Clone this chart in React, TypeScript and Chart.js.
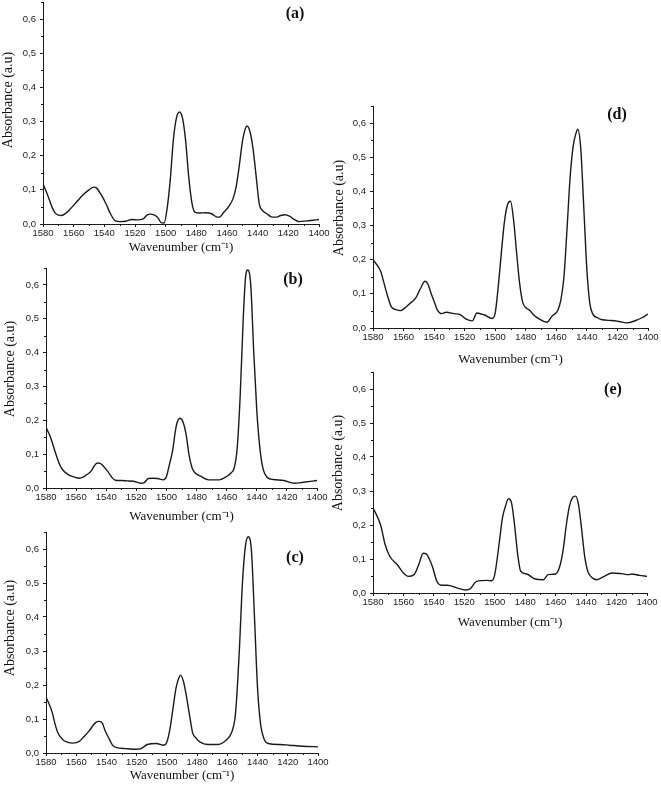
import React, { useEffect, useRef } from "react";
import { Chart, registerables } from "chart.js";

Chart.register(...registerables);

// ---- axis ticks / titles ----
const X_TICKS = [1580, 1560, 1540, 1520, 1500, 1480, 1460, 1440, 1420, 1400];
const X_MINOR = [1570, 1550, 1530, 1510, 1490, 1470, 1450, 1430, 1410];
const Y_TICKS = [0, 0.1, 0.2, 0.3, 0.4, 0.5, 0.6];
const Y_MINOR = [0.05, 0.15, 0.25, 0.35, 0.45, 0.55, 0.65];
const X_TITLE = "Wavenumber (cm⁻¹)";
const Y_TITLE = "Absorbance (a.u)";

// ---- spectra ----
const WN_A = [1580, 1577, 1574, 1572, 1570, 1568, 1565, 1562, 1558, 1554, 1550, 1547, 1545, 1542, 1539, 1536, 1533, 1530, 1526, 1522, 1518, 1515, 1512, 1510, 1507, 1505, 1503, 1501, 1499, 1497, 1495, 1493, 1491, 1489, 1487, 1485, 1483, 1481, 1478, 1474, 1470, 1467, 1465, 1462, 1459, 1456, 1454, 1452, 1450, 1448, 1447, 1445, 1443, 1441, 1439, 1437, 1434, 1431, 1428, 1425, 1422, 1419, 1416, 1413, 1408, 1404, 1400];
const ABS_A = [0.118, 0.085, 0.048, 0.032, 0.026, 0.025, 0.032, 0.045, 0.065, 0.085, 0.1, 0.108, 0.105, 0.085, 0.06, 0.03, 0.01, 0.007, 0.008, 0.013, 0.012, 0.014, 0.027, 0.029, 0.025, 0.018, 0.004, 0.003, 0.047, 0.13, 0.246, 0.31, 0.328, 0.31, 0.245, 0.14, 0.065, 0.035, 0.032, 0.033, 0.03, 0.021, 0.02, 0.035, 0.05, 0.075, 0.11, 0.17, 0.24, 0.28, 0.287, 0.27, 0.22, 0.14, 0.06, 0.04, 0.03, 0.021, 0.02, 0.025, 0.027, 0.022, 0.013, 0.007, 0.009, 0.011, 0.013];

const WN_B = [1580, 1577, 1574, 1571, 1569, 1565, 1561, 1558, 1555, 1553, 1550, 1548, 1546, 1544, 1542, 1539, 1536, 1534, 1530, 1526, 1522, 1517, 1515, 1512, 1509, 1506, 1502, 1500, 1498, 1496, 1494, 1493, 1491, 1489, 1487, 1485, 1483, 1481, 1477, 1472, 1465, 1460, 1457, 1455, 1453, 1451, 1449, 1447.5, 1446, 1444, 1442, 1440, 1438, 1436, 1433, 1429, 1422, 1415, 1409, 1400];
const ABS_B = [0.179, 0.15, 0.108, 0.07, 0.054, 0.039, 0.032, 0.029, 0.033, 0.039, 0.05, 0.065, 0.074, 0.073, 0.065, 0.049, 0.03, 0.023, 0.022, 0.021, 0.02, 0.014, 0.015, 0.028, 0.029, 0.028, 0.024, 0.034, 0.07, 0.108, 0.17, 0.192, 0.206, 0.195, 0.16, 0.098, 0.06, 0.045, 0.034, 0.024, 0.024, 0.034, 0.045, 0.059, 0.118, 0.275, 0.5, 0.62, 0.644, 0.6, 0.4, 0.23, 0.12, 0.06, 0.031, 0.025, 0.022, 0.014, 0.017, 0.022];

const WN_C = [1580, 1576, 1574, 1572, 1569, 1566, 1562, 1558, 1555, 1552, 1549, 1547, 1545, 1543, 1541, 1538, 1536, 1533, 1527, 1520, 1517, 1513, 1507, 1502, 1500, 1498, 1496, 1494, 1492, 1491, 1489, 1487, 1485, 1483, 1481, 1478, 1473, 1467, 1461, 1457, 1455, 1454, 1452, 1450, 1448, 1446, 1444, 1442, 1440, 1438, 1436, 1433, 1425, 1419, 1410, 1400];
const ABS_C = [0.165, 0.121, 0.085, 0.058, 0.04, 0.032, 0.029, 0.034, 0.048, 0.062, 0.08, 0.09, 0.093, 0.09, 0.067, 0.04, 0.023, 0.016, 0.013, 0.011, 0.013, 0.025, 0.028, 0.023, 0.032, 0.07, 0.13, 0.19, 0.222, 0.229, 0.21, 0.165, 0.111, 0.06, 0.045, 0.032, 0.025, 0.025, 0.037, 0.062, 0.1, 0.15, 0.307, 0.5, 0.61, 0.636, 0.592, 0.396, 0.19, 0.085, 0.045, 0.028, 0.025, 0.023, 0.02, 0.018];

const WN_D = [1580, 1575, 1573, 1571, 1568, 1565, 1562, 1558, 1555, 1552, 1549, 1546, 1544, 1542, 1540, 1538, 1535, 1532, 1527, 1523, 1519, 1515, 1512, 1507, 1502, 1500, 1498, 1496, 1494, 1492, 1490, 1488, 1486, 1484, 1482, 1480, 1477, 1475, 1471, 1466, 1463, 1459, 1457, 1455, 1453, 1451, 1449, 1447, 1446, 1444, 1442, 1440, 1438, 1436, 1433, 1430, 1424, 1419, 1414, 1408, 1404, 1400];
const ABS_D = [0.2, 0.166, 0.135, 0.102, 0.062, 0.054, 0.051, 0.063, 0.075, 0.088, 0.115, 0.137, 0.128, 0.102, 0.078, 0.054, 0.042, 0.046, 0.042, 0.039, 0.026, 0.021, 0.044, 0.038, 0.028, 0.044, 0.122, 0.22, 0.31, 0.36, 0.371, 0.317, 0.22, 0.13, 0.075, 0.06, 0.05, 0.039, 0.026, 0.017, 0.034, 0.052, 0.083, 0.15, 0.29, 0.44, 0.532, 0.572, 0.582, 0.525, 0.35, 0.17, 0.07, 0.04, 0.03, 0.024, 0.022, 0.019, 0.015, 0.022, 0.03, 0.041];

const WN_E = [1580, 1575, 1572, 1569, 1564, 1560, 1557, 1553, 1550, 1547, 1545, 1543, 1541, 1538, 1535, 1531, 1525, 1519, 1516, 1512, 1505, 1502, 1500, 1497, 1495, 1493, 1491, 1489, 1487, 1485, 1483, 1479, 1474, 1468, 1465, 1460, 1457, 1455, 1453, 1451, 1449, 1447, 1445, 1443, 1441, 1439, 1437, 1433, 1428, 1423, 1417, 1412, 1410, 1405, 1400];
const ABS_E = [0.251, 0.2, 0.142, 0.108, 0.083, 0.059, 0.049, 0.054, 0.083, 0.117, 0.115, 0.1, 0.078, 0.034, 0.023, 0.023, 0.015, 0.009, 0.013, 0.034, 0.037, 0.036, 0.055, 0.15, 0.22, 0.255, 0.277, 0.265, 0.2, 0.115, 0.064, 0.056, 0.042, 0.039, 0.054, 0.056, 0.083, 0.13, 0.2, 0.255, 0.28, 0.285, 0.26, 0.19, 0.11, 0.065, 0.049, 0.039, 0.049, 0.059, 0.057, 0.054, 0.056, 0.052, 0.049];

// ---- layout (page pixel geometry of each panel) ----
// cl: canvas left, L/R/T/B: plot area, tY: x-title offset below axis,
// tX/tYc: y-title centre, lx/ly: panel label centre
type Geom = { cl: number; L: number; R: number; T: number; B: number; tY: number; tX: number; tYc: number; lx: number; ly: number };

const PANELS: { key: string; label: string; wn: number[]; abs: number[]; g: Geom }[] = [
  { key: "a", label: "(a)", wn: WN_A, abs: ABS_A, g: { cl: 0, L: 43, R: 319, T: 2, B: 224, tY: 24, tX: 8, tYc: 100, lx: 295, ly: 14 } },
  { key: "b", label: "(b)", wn: WN_B, abs: ABS_B, g: { cl: 0, L: 46, R: 317, T: 268, B: 488, tY: 29, tX: 10, tYc: 369, lx: 293, ly: 280 } },
  { key: "c", label: "(c)", wn: WN_C, abs: ABS_C, g: { cl: 0, L: 46, R: 318, T: 532, B: 753, tY: 23, tX: 10, tYc: 628, lx: 295, ly: 558 } },
  { key: "d", label: "(d)", wn: WN_D, abs: ABS_D, g: { cl: 330, L: 373, R: 648, T: 106, B: 328, tY: 32, tX: 339, tYc: 208, lx: 617, ly: 115 } },
  { key: "e", label: "(e)", wn: WN_E, abs: ABS_E, g: { cl: 330, L: 373, R: 647, T: 372, B: 593, tY: 30, tX: 338, tYc: 463, lx: 613, ly: 390 } },
];

const PAD_TOP = 10;
const PAD_RIGHT = 15;
const SERIF = "'Liberation Serif', 'Times New Roman', serif";
const SANS = "'Liberation Sans', Arial, sans-serif";
const INK = "#1a1a1a";

function Panel({ label, wn, abs, g }: { label: string; wn: number[]; abs: number[]; g: Geom }) {
  const ref = useRef<HTMLCanvasElement | null>(null);
  const top = g.T - PAD_TOP;
  const width = g.R + PAD_RIGHT - g.cl;
  const height = Math.round(g.B - top + g.tY + 10);
  const xh = height - (g.B - top);
  const yw = g.L - g.cl;

  useEffect(() => {
    if (!ref.current) return;
    const points = wn.map((x, i) => ({ x, y: abs[i] }));
    const deco = {
      id: "deco",
      afterDraw(chart: any) {
        const ctx = chart.ctx;
        const xs = chart.scales.x;
        const ys = chart.scales.y;
        const area = chart.chartArea;
        ctx.save();
        ctx.strokeStyle = INK;
        ctx.lineWidth = 1;
        ctx.beginPath();
        Y_MINOR.forEach((v) => {
          const p = Math.round(ys.getPixelForValue(v)) + 0.5;
          ctx.moveTo(area.left, p);
          ctx.lineTo(area.left - 2, p);
        });
        X_MINOR.forEach((v) => {
          const p = Math.round(xs.getPixelForValue(v)) + 0.5;
          ctx.moveTo(p, area.bottom);
          ctx.lineTo(p, area.bottom + 2);
        });
        ctx.stroke();
        ctx.fillStyle = "#111";
        ctx.textAlign = "center";
        ctx.textBaseline = "middle";
        // panel label
        ctx.font = `bold 16px ${SERIF}`;
        ctx.fillText(label, g.lx - g.cl, g.ly - top);
        // x title
        ctx.font = `13px ${SERIF}`;
        ctx.fillText(X_TITLE, (area.left + area.right) / 2, area.bottom + g.tY);
        // y title
        ctx.font = `14px ${SERIF}`;
        ctx.translate(g.tX - g.cl, g.tYc - top);
        ctx.rotate(-Math.PI / 2);
        ctx.fillText(Y_TITLE, 0, 0);
        ctx.restore();
      },
    };
    const chart = new Chart(ref.current, {
      type: "line",
      data: {
        datasets: [
          {
            data: points,
            borderColor: INK,
            borderWidth: 1.4,
            pointRadius: 0,
            fill: false,
            cubicInterpolationMode: "monotone",
          },
        ],
      },
      options: {
        animation: false,
        responsive: false,
        events: [],
        layout: { padding: { top: PAD_TOP, right: PAD_RIGHT, left: 0, bottom: 0 } },
        plugins: { legend: { display: false }, tooltip: { enabled: false } },
        scales: {
          x: {
            type: "linear",
            reverse: true,
            min: 1400,
            max: 1580,
            afterBuildTicks: (s: any) => {
              s.ticks = X_TICKS.map((v) => ({ value: v }));
            },
            afterFit: (s: any) => {
              s.height = xh;
            },
            ticks: {
              autoSkip: false,
              maxRotation: 0,
              padding: 2,
              color: "#1a1a1a",
              font: { family: SANS, size: 9.5, lineHeight: 1 },
              callback: (v: any) => String(v),
            },
            grid: { drawOnChartArea: false, drawTicks: true, tickLength: 3, tickColor: INK },
            border: { display: true, color: INK, width: 1 },
            title: { display: false },
          },
          y: {
            type: "linear",
            min: 0,
            max: 0.65,
            afterBuildTicks: (s: any) => {
              s.ticks = Y_TICKS.map((v) => ({ value: v }));
            },
            afterFit: (s: any) => {
              s.width = yw;
            },
            ticks: {
              padding: 4,
              color: "#1a1a1a",
              font: { family: SANS, size: 9.5 },
              callback: (v: any) => Number(v).toFixed(1).replace(".", ","),
            },
            grid: { drawOnChartArea: false, drawTicks: true, tickLength: 3, tickColor: INK },
            border: { display: true, color: INK, width: 1 },
            title: { display: false },
          },
        },
      },
      plugins: [deco],
    } as any);
    return () => chart.destroy();
  }, [label, wn, abs]);

  return (
    <canvas
      ref={ref}
      width={width}
      height={height}
      style={{ position: "absolute", left: g.cl, top, width, height }}
    />
  );
}

export default function App() {
  return (
    <div style={{ position: "absolute", left: 0, top: 0, width: 661, height: 791, background: "#fff" }}>
      {PANELS.map((p) => (
        <Panel key={p.key} label={p.label} wn={p.wn} abs={p.abs} g={p.g} />
      ))}
    </div>
  );
}
